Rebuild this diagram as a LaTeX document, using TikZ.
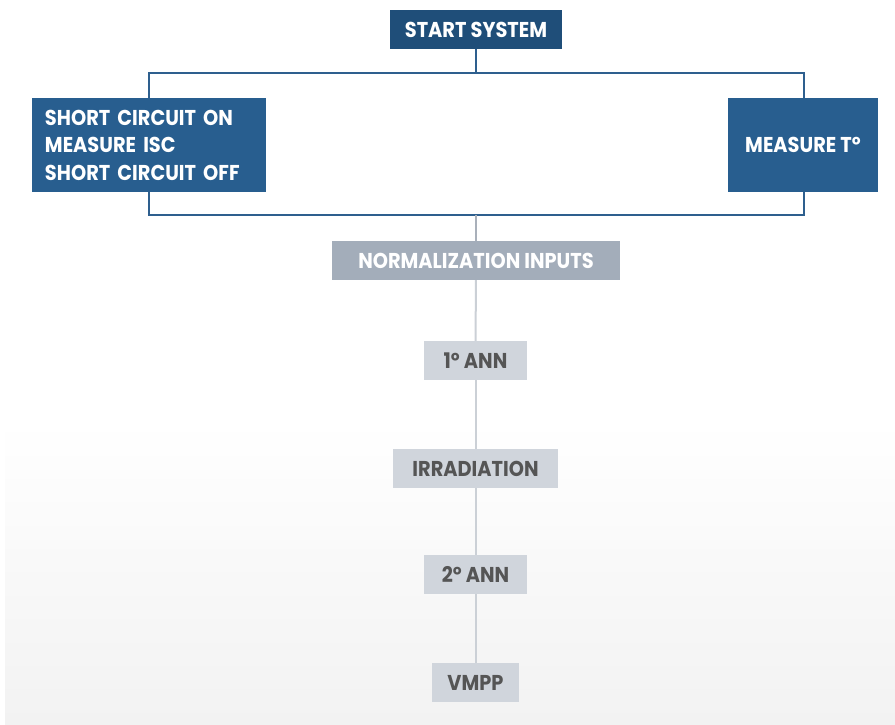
\documentclass[tikz,border=0pt]{standalone}
\usepackage{fontspec}
\setmainfont{Poppins}[FakeStretch=0.9]
\usetikzlibrary{backgrounds}

\definecolor{headblue}{HTML}{1F4E79}
\definecolor{stepblue}{HTML}{285E8F}
\definecolor{framecol}{HTML}{2E5F8E}
\definecolor{normfill}{HTML}{A3ADBA}
\definecolor{lightfill}{HTML}{D0D5DC}
\definecolor{darktext}{HTML}{555555}
\definecolor{linegray}{HTML}{CBD0D6}
\definecolor{linemid}{HTML}{A9B0BA}
\definecolor{shadebot}{HTML}{F2F2F2}

\tikzset{
  basebox/.style={rectangle, inner sep=0pt, minimum height=39pt,
    font=\fontsize{21.5}{27.5}\selectfont\bfseries},
  headbox/.style={basebox, fill=headblue, text=white},
  bluebox/.style={basebox, fill=stepblue, text=white, minimum height=94pt},
  normbox/.style={basebox, fill=normfill, text=white},
  greybox/.style={basebox, fill=lightfill, text=darktext},
  frameline/.style={draw=framecol, line width=2pt},
  flowline/.style={draw=linegray, line width=2pt},
}

\begin{document}
\begin{tikzpicture}[x=1pt,y=-1pt]
  \useasboundingbox (0,0) rectangle (895,724);

  % boxes
  \node[headbox, minimum width=172pt] (start) at (476,29.5) {START SYSTEM};
  \node[bluebox, minimum width=234pt, text width=208pt, align=left] (sc) at (149,145)
    {SHORT CIRCUIT ON\\MEASURE ISC\\SHORT CIRCUIT OFF};
  \node[bluebox, minimum width=150pt] (temp) at (803,145) {MEASURE Tº};
  \node[normbox, minimum width=288pt] (norm) at (476,260.5) {NORMALIZATION INPUTS};
  \node[greybox, minimum width=103pt] (ann1) at (475.5,360.5) {1º ANN};
  \node[greybox, minimum width=165pt] (irr) at (475.5,468.5) {IRRADIATION};
  \node[greybox, minimum width=103pt] (ann2) at (475.5,574.5) {2º ANN};
  \node[greybox, minimum width=87pt] (vmpp) at (475.5,682.5) {VMPP};

  % frame corners around the two measuring steps
  \coordinate (tl) at (149,73);
  \coordinate (tr) at (804,73);
  \coordinate (bl) at (149,215);
  \coordinate (br) at (804,215);

  \begin{scope}[on background layer]
    % soft shaded floor
    \shade[top color=white, bottom color=shadebot] (5,420) rectangle (895,724);
    % frame
    \draw[frameline] (start.south) -- (start.south |- tl);
    \draw[frameline] (tl) -- (tr) -- (br) -- (bl) -- cycle;
    % vertical flow
    \draw[draw=linemid, line width=2pt] (start.south |- bl) -- (norm.north);
    \draw[flowline] (norm) -- (ann1);
    \draw[flowline] (ann1) -- (irr);
    \draw[flowline] (irr) -- (ann2);
    \draw[flowline] (ann2) -- (vmpp);
  \end{scope}
\end{tikzpicture}
\end{document}
